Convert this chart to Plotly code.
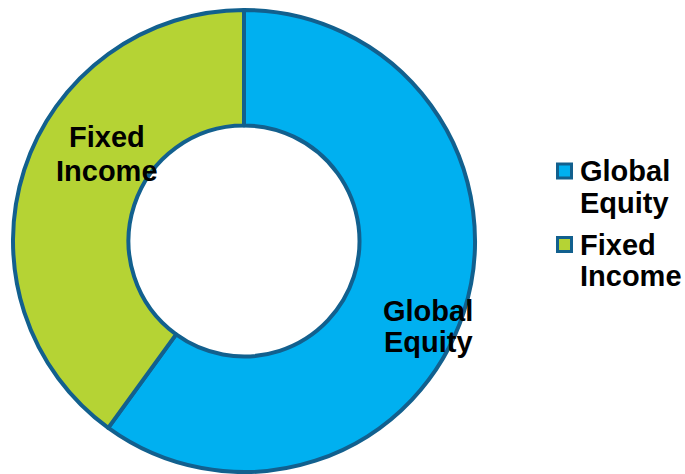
import plotly.graph_objects as go

# Asset allocation split
labels = ["Global Equity", "Fixed Income"]
values = [60, 40]
colors = ["#00B0F0", "#B5D334"]
outline = "#12608E"

W, H = 685, 474
FONT = "Arial"


def px_x(v):
    return v / W


def px_y(v):
    return 1 - v / H


fig = go.Figure()
fig.add_trace(go.Pie(
    labels=labels,
    values=values,
    hole=0.5,
    sort=False,
    direction="clockwise",
    rotation=0,
    textinfo="none",
    hoverinfo="label+percent",
    showlegend=False,
    marker=dict(colors=colors, line=dict(color=outline, width=4)),
    domain=dict(x=[px_x(13), px_x(475)], y=[px_y(472), px_y(10)]),
))

# Slice labels over the ring, one annotation per word line
# (centre x, vertical middle of each line in pixels)
label_pos = {
    "Global Equity": (428, [311, 342]),
    "Fixed Income": (107, [136.5, 170.5]),
}
for lab in labels:
    cx, rows = label_pos[lab]
    for word, cy in zip(lab.split(" "), rows):
        fig.add_annotation(
            x=px_x(cx), y=px_y(cy), xref="paper", yref="paper",
            text="<b>" + word + "</b>", showarrow=False,
            font=dict(family=FONT, size=29, color="#000000"),
            xanchor="center", yanchor="middle", align="center",
        )

# Key on the right: outlined swatch plus two-line bold name
key_rows = [(171, 203), (244.5, 276)]
for lab, col, rows in zip(labels, colors, key_rows):
    top = rows[0] - 7
    fig.add_shape(
        type="rect", xref="paper", yref="paper",
        x0=px_x(557.5), x1=px_x(571.5), y0=px_y(top + 14), y1=px_y(top),
        fillcolor=col, line=dict(color=outline, width=3),
    )
    for word, cy in zip(lab.split(" "), rows):
        fig.add_annotation(
            x=px_x(578), y=px_y(cy), xref="paper", yref="paper",
            text="<b>" + word + "</b>", showarrow=False,
            font=dict(family=FONT, size=29, color="#000000"),
            xanchor="left", yanchor="middle", align="left",
        )

fig.update_layout(
    width=W, height=H,
    margin=dict(l=0, r=0, t=0, b=0),
    paper_bgcolor="white",
    plot_bgcolor="white",
    showlegend=False,
)

fig.write_html("out.html")
